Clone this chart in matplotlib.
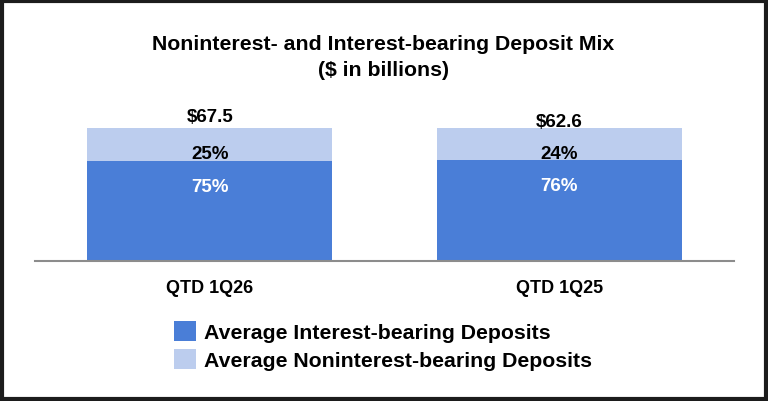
import matplotlib
matplotlib.use("Agg")
import matplotlib.pyplot as plt
from matplotlib.patches import Rectangle

plt.rcParams['font.family'] = ['Liberation Sans', 'DejaVu Sans']
plt.rcParams['font.weight'] = 'bold'

categories = ["QTD 1Q26", "QTD 1Q25"]
totals = [67.5, 62.6]
interest_pct = [75, 76]
noninterest_pct = [25, 24]
total_offsets = [8.0, 5.0]  # the two $ labels don't sit at the same height in the original

dark = "#4a7ed7"
light = "#bccdee"

fig = plt.figure(figsize=(7.68, 4.02), dpi=100)
ax = fig.add_axes([35/768, 1 - 262/402, 699/768, 133/402])

x = range(len(categories))
b1 = ax.bar(x, interest_pct, width=0.70, color=dark, label="Average Interest-bearing Deposits")
b2 = ax.bar(x, noninterest_pct, width=0.70, bottom=interest_pct, color=light,
            label="Average Noninterest-bearing Deposits")

ax.set_xlim(-0.5, 1.5)
ax.set_ylim(0, 100)
ax.set_yticks([])
ax.set_xticks(list(x))
ax.set_xticklabels(categories, fontsize=13, fontweight='bold')
ax.tick_params(axis='x', length=0, pad=13)
for s in ['top', 'right', 'left']:
    ax.spines[s].set_visible(False)
ax.spines['bottom'].set_color("#8c8c8c")
ax.spines['bottom'].set_linewidth(1.5)

for i in x:
    top = interest_pct[i] + noninterest_pct[i]
    ax.annotate(f"${totals[i]:.1f}", (i, top), xytext=(0, total_offsets[i]),
                textcoords='offset points', ha='center', va='center',
                fontsize=13.5, fontweight='bold', color='black', annotation_clip=False)
    ax.annotate(f"{noninterest_pct[i]}%", (i, top), xytext=(0, -18.5),
                textcoords='offset points', ha='center', va='center',
                fontsize=13.5, fontweight='bold', color='black')
    ax.annotate(f"{interest_pct[i]}%", (i, interest_pct[i]), xytext=(0, -18.5),
                textcoords='offset points', ha='center', va='center',
                fontsize=13.5, fontweight='bold', color='white')

fig.text(383/768, 1 - 44/402, "Noninterest- and Interest-bearing Deposit Mix",
         ha='center', va='center', fontsize=15.3, fontweight='bold')
fig.text(383/768, 1 - 71/402, "($ in billions)",
         ha='center', va='center', fontsize=15.3, fontweight='bold')

fig.legend(handles=[b1, b2], loc='upper left', bbox_to_anchor=(174/768, 1 - 322/402),
           frameon=False, borderpad=0, borderaxespad=0,
           handlelength=1.05, handleheight=1.1, handletextpad=0.38, labelspacing=0.3,
           prop={'weight': 'bold', 'size': 15.3})

fig.patches.append(Rectangle((2/768, 2/402), 764/768, 398/402, transform=fig.transFigure,
                             fill=False, edgecolor="#1c1c1c", linewidth=3, zorder=10))

fig.savefig("out.png", dpi=100, facecolor='white')
